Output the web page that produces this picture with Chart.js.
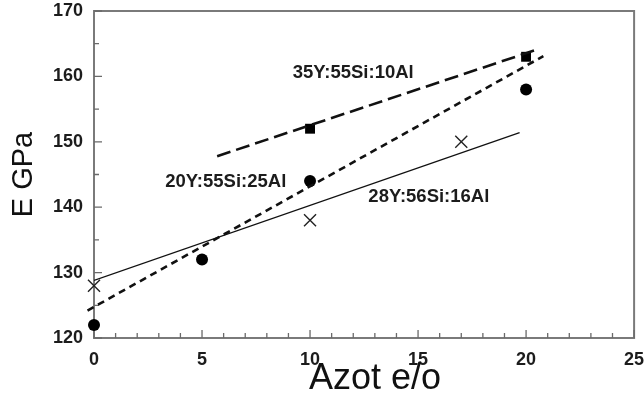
<!DOCTYPE html>
<html>
<head>
<meta charset="utf-8">
<script src="https://cdn.jsdelivr.net/npm/chart.js@4/dist/chart.umd.min.js"></script>
<style>
  html, body { margin: 0; padding: 0; background: #fff; }
  canvas { display: block; }
</style>
</head>
<body>
<canvas id="c" width="644" height="403"></canvas>
<script>
// Young's modulus vs nitrogen content for three glass compositions
const squareN = [10, 20];
const squareE = [152, 163];
const dotN = [0, 5, 10, 20];
const dotE = [122, 132, 144, 158];
const crossN = [0, 10, 17];
const crossE = [128, 138, 150];

// fitted trend lines (end points)
const fitLongN = [5.7, 20.6];
const fitLongE = [147.8, 164.2];
const fitShortN = [-0.3, 20.8];
const fitShortE = [124.2, 163.1];
const fitSolidN = [0, 19.7];
const fitSolidE = [128.8, 151.4];

// composition labels
const labelText = ['35Y:55Si:10Al', '20Y:55Si:25Al', '28Y:56Si:16Al'];
const labelN = [12.0, 6.1, 15.5];
const labelE = [160.6, 143.8, 141.5];

// axis ranges and ticks
const xMin = 0, xMax = 25, xMajor = 5, xMinor = 1;
const yMin = 120, yMax = 170, yMajor = 10, yMinor = 5;
const xTitle = 'Azot e/o';
const yTitle = 'E GPa';

const FONT = '"Liberation Sans", Arial, sans-serif';
const pts = (xs, ys) => xs.map((x, i) => ({ x: x, y: ys[i] }));

const boxPlugin = {
  id: 'box',
  beforeDatasetsDraw(chart) {
    const { ctx, chartArea: a, scales } = chart;
    ctx.save();
    ctx.strokeStyle = '#7a7a7a';
    ctx.lineWidth = 2;
    ctx.strokeRect(a.left, a.top, a.right - a.left, a.bottom - a.top);
    ctx.strokeStyle = '#6a6a6a';
    ctx.lineWidth = 1.3;
    ctx.beginPath();
    for (let v = xMin; v <= xMax; v += xMinor) {
      const px = scales.x.getPixelForValue(v);
      const len = (v % xMajor === 0) ? 8 : 5;
      ctx.moveTo(px, a.bottom);
      ctx.lineTo(px, a.bottom - len);
    }
    for (let v = yMin; v <= yMax; v += yMinor) {
      const py = scales.y.getPixelForValue(v);
      const len = (v % yMajor === 0) ? 8 : 5;
      ctx.moveTo(a.left, py);
      ctx.lineTo(a.left + len, py);
    }
    ctx.stroke();

    // x-axis title, set a little right of the axis centre
    ctx.fillStyle = '#111';
    ctx.font = '36px ' + FONT;
    ctx.textAlign = 'center';
    ctx.textBaseline = 'middle';
    const cx = (a.left + a.right) / 2 + 11;
    ctx.fillText(xTitle, cx, scales.x.bottom - 24);
    ctx.restore();
  },
  afterDatasetsDraw(chart) {
    const { ctx, scales } = chart;
    ctx.save();
    ctx.fillStyle = '#1c1c1c';
    ctx.font = 'bold 18.5px ' + FONT;
    ctx.textAlign = 'center';
    ctx.textBaseline = 'middle';
    labelText.forEach((t, i) => {
      ctx.fillText(t, scales.x.getPixelForValue(labelN[i]), scales.y.getPixelForValue(labelE[i]));
    });
    ctx.restore();
  }
};

new Chart(document.getElementById('c'), {
  type: 'scatter',
  data: {
    datasets: [
      {
        type: 'line', data: pts(fitLongN, fitLongE),
        borderColor: '#111', borderWidth: 2.6, borderDash: [14, 6],
        pointRadius: 0, fill: false, tension: 0
      },
      {
        type: 'line', data: pts(fitShortN, fitShortE),
        borderColor: '#111', borderWidth: 2.6, borderDash: [7, 5],
        pointRadius: 0, fill: false, tension: 0, clip: false
      },
      {
        type: 'line', data: pts(fitSolidN, fitSolidE),
        borderColor: '#111', borderWidth: 1.3,
        pointRadius: 0, fill: false, tension: 0
      },
      {
        data: pts(squareN, squareE), pointStyle: 'rect', pointRadius: 7,
        backgroundColor: '#000', borderColor: '#000', borderWidth: 0, clip: false
      },
      {
        data: pts(dotN, dotE), pointStyle: 'circle', pointRadius: 6,
        backgroundColor: '#000', borderColor: '#000', borderWidth: 0, clip: false
      },
      {
        data: pts(crossN, crossE), pointStyle: 'crossRot', pointRadius: 8.5,
        backgroundColor: '#222', borderColor: '#222', borderWidth: 1.4, clip: false
      }
    ]
  },
  options: {
    responsive: false,
    animation: false,
    devicePixelRatio: 1,
    layout: { padding: { top: 11, right: 7, left: 0, bottom: 0 } },
    plugins: { legend: { display: false }, tooltip: { enabled: false } },
    scales: {
      x: {
        type: 'linear', min: xMin, max: xMax,
        grid: { display: false, drawTicks: false },
        border: { display: false },
        ticks: {
          stepSize: xMajor, padding: 11, color: '#1c1c1c',
          font: { family: FONT, size: 18, weight: 'bold' }
        },
        title: { display: false },
        afterFit(s) { s.height = 65; s.paddingLeft = 0; s.paddingRight = 0; }
      },
      y: {
        type: 'linear', min: yMin, max: yMax,
        grid: { display: false, drawTicks: false },
        border: { display: false },
        ticks: {
          stepSize: yMajor, padding: 11, color: '#1c1c1c',
          font: { family: FONT, size: 18, weight: 'bold' }
        },
        title: {
          display: true, text: yTitle, color: '#111',
          font: { family: FONT, size: 29, weight: 'normal' },
          padding: { top: 7, bottom: 0 }
        },
        afterFit(s) { s.width = 94; s.paddingTop = 0; s.paddingBottom = 0; }
      }
    }
  },
  plugins: [boxPlugin]
});
</script>
</body>
</html>
